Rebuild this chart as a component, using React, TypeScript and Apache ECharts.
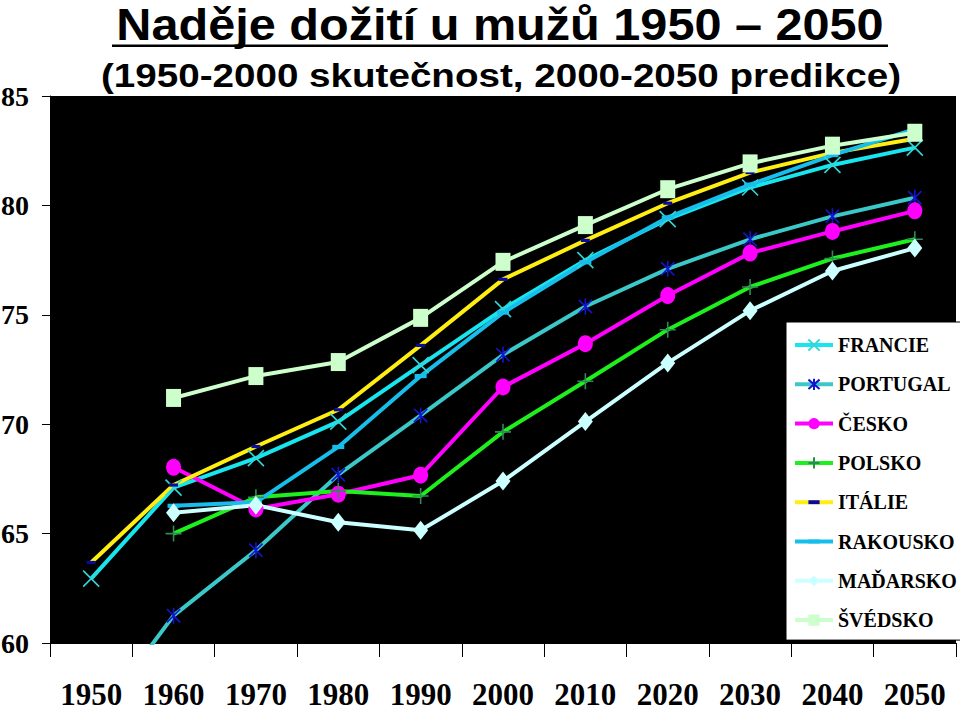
import React, { useEffect, useRef } from "react";
import * as echarts from "echarts";

const years = ["1950", "1960", "1970", "1980", "1990", "2000", "2010", "2020", "2030", "2040", "2050"];
const yTicks = { min: 60, max: 85, interval: 5 };

const francie = [62.94, 67.1, 68.45, 70.12, 72.7, 75.26, 77.5, 79.37, 80.82, 81.85, 82.64];
const portugal = [56.2, 61.25, 64.24, 67.69, 70.4, 73.17, 75.38, 77.1, 78.45, 79.5, 80.35];
const cesko = [null, 68.03, 66.13, 66.8, 67.67, 71.7, 73.68, 75.88, 77.82, 78.81, 79.75];
const polsko = [null, 65.0, 66.66, 66.95, 66.72, 69.65, 71.96, 74.32, 76.27, 77.57, 78.45];
const italie = [63.68, 67.22, 68.98, 70.66, 73.6, 76.62, 78.4, 80.1, 81.5, 82.4, 83.05];
const rakousko = [null, 66.27, 66.43, 68.96, 72.2, 75.1, 77.4, 79.45, 80.95, 82.3, 83.48];
const madarsko = [null, 65.95, 66.3, 65.52, 65.15, 67.4, 70.12, 72.8, 75.19, 77.0, 78.05];
const svedsko = [null, 71.2, 72.2, 72.84, 74.86, 77.42, 79.1, 80.74, 81.92, 82.73, 83.32];

const titleText = "Naděje dožití u mužů 1950 – 2050";
const subtitleText = "(1950-2000 skutečnost, 2000-2050 predikce)";

const X_PATH = "path://M0,0L10,10M10,0L0,10";
const STAR_PATH = "path://M0,0L10,10M10,0L0,10M5,-1L5,11";
const PLUS_PATH = "path://M5,0L5,10M0,5L10,5";
const DASH_PATH = "path://M0,0M8,8M0,2.6L8,2.6L8,5.4L0,5.4Z";

const serif = '"Liberation Serif", "Times New Roman", serif';
const sans = '"Liberation Sans", Arial, sans-serif';

export default function App() {
  const ref = useRef<HTMLDivElement>(null);
  useEffect(() => {
    if (!ref.current) return;
    const chart = echarts.init(ref.current, null, { renderer: "svg" });
    const lineSeries = (
      name: string,
      data: (number | null)[],
      color: string,
      symbol: string,
      symbolSize: number | number[],
      symbolColor: string,
      stroked: boolean
    ) => ({
      name,
      type: "line",
      data,
      connectNulls: false,
      symbol,
      symbolSize,
      symbolKeepAspect: true,
      showAllSymbol: true,
      lineStyle: { color, width: 4 },
      itemStyle: stroked
        ? { color: "rgba(0,0,0,0)", borderColor: symbolColor, borderWidth: 1.6 }
        : { color: symbolColor, borderWidth: 0 },
      color,
      emphasis: { disabled: true },
    });

    chart.setOption({
      animation: false,
      backgroundColor: "#ffffff",
      grid: {
        left: 50,
        right: 4,
        top: 96,
        bottom: 68,
        containLabel: false,
        outerBoundsMode: "none",
        show: true,
        backgroundColor: "#000000",
        borderWidth: 0,
      },
      graphic: [
        {
          type: "text",
          x: 500,
          y: 25,
          scaleX: 1.105,
          style: {
            text: titleText,
            font: `bold 44px ${sans}`,
            fill: "#000",
            textAlign: "center",
            textVerticalAlign: "middle",
          },
        },
        {
          type: "rect",
          shape: { x: 112, y: 44.5, width: 776, height: 2.5 },
          style: { fill: "#000" },
        },
        {
          type: "text",
          x: 501,
          y: 75,
          scaleX: 1.135,
          style: {
            text: subtitleText,
            font: `bold 34px ${sans}`,
            fill: "#000",
            textAlign: "center",
            textVerticalAlign: "middle",
          },
        },
      ],
      legend: {
        orient: "vertical",
        left: 786,
        top: 322,
        padding: [13, 4, 10, 7],
        itemGap: 19.3,
        itemWidth: 38,
        itemHeight: 14,
        itemTextGap: 3,
        symbolKeepAspect: true,
        backgroundColor: "#ffffff",
        borderColor: "#000000",
        borderWidth: 1,
        lineStyle: { width: 4 },
        textStyle: {
          fontFamily: serif,
          fontWeight: "bold",
          fontSize: 20,
          lineHeight: 20,
          color: "#000",
        },
      },
      xAxis: {
        type: "category",
        data: years,
        boundaryGap: true,
        axisLine: { show: true, lineStyle: { color: "#000", width: 1 } },
        axisTick: { show: true, length: 14, inside: false, lineStyle: { color: "#000", width: 1 } },
        axisLabel: {
          margin: 36,
          fontFamily: serif,
          fontWeight: "bold",
          fontSize: 31,
          color: "#000",
          interval: 0,
        },
        splitLine: { show: false },
      },
      yAxis: {
        type: "value",
        min: yTicks.min,
        max: yTicks.max,
        interval: yTicks.interval,
        axisLine: { show: true, lineStyle: { color: "#000", width: 1 } },
        axisTick: { show: true, length: 8, lineStyle: { color: "#000", width: 1 } },
        axisLabel: {
          margin: 21,
          fontFamily: serif,
          fontWeight: "bold",
          fontSize: 28,
          color: "#000",
        },
        splitLine: { show: false },
      },
      series: [
        lineSeries("FRANCIE", francie, "#19E5EF", X_PATH, 16, "#33D6D6", true),
        lineSeries("PORTUGAL", portugal, "#3CC8C8", STAR_PATH, 16, "#1414D0", true),
        lineSeries("ČESKO", cesko, "#FF00FF", "circle", [15, 17], "#FF00FF", false),
        lineSeries("POLSKO", polsko, "#1EF01E", PLUS_PATH, 16, "#2E8B57", true),
        lineSeries("ITÁLIE", italie, "#FFEE11", DASH_PATH, 9, "#0A0AA0", false),
        lineSeries("RAKOUSKO", rakousko, "#18BEEA", DASH_PATH, 12, "#18BEEA", false),
        lineSeries("MAĎARSKO", madarsko, "#CCFFFF", "diamond", [15, 19], "#CCFFFF", false),
        lineSeries("ŠVÉDSKO", svedsko, "#CCFFCC", "rect", [15, 18], "#CCFFCC", false),
      ],
    });
    return () => chart.dispose();
  }, []);
  return (
    <div
      ref={ref}
      style={{ position: "absolute", left: 0, top: 0, width: 960, height: 711 }}
    />
  );
}
